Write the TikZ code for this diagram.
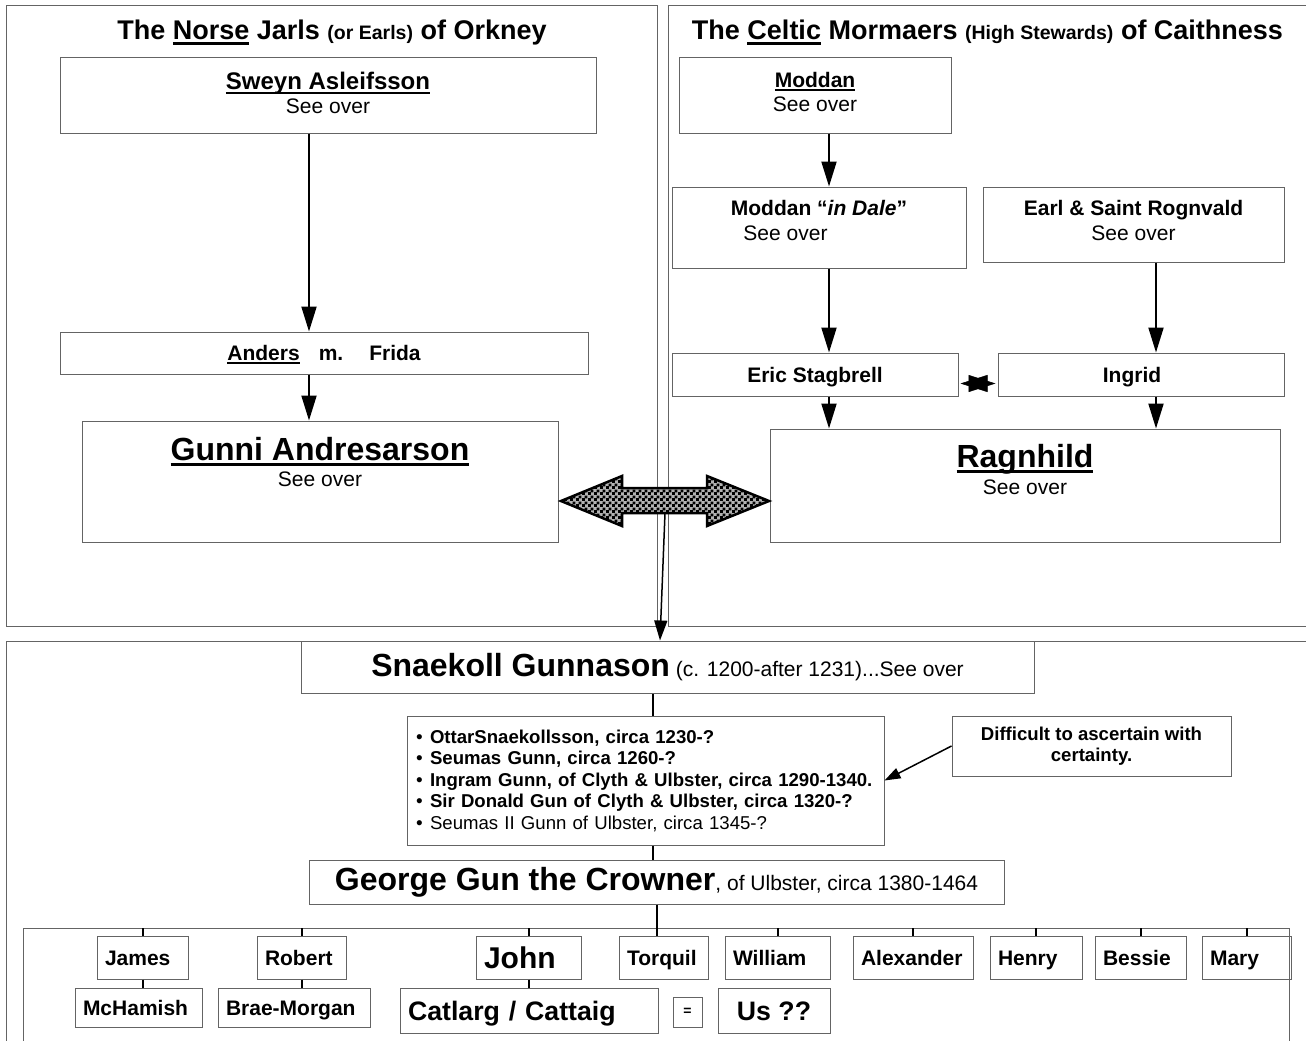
\documentclass[tikz,border=0pt]{standalone}
\usepackage{fontspec}
\setmainfont{Liberation Sans}
\usetikzlibrary{arrows.meta,patterns}

\definecolor{edgegray}{RGB}{100,100,100}

% fine chequer for the big double arrow
\pgfdeclarepatternformonly{smallcheck}{\pgfpointorigin}{\pgfqpoint{6pt}{6pt}}{\pgfqpoint{6pt}{6pt}}%
{%
  \pgfpathrectangle{\pgfpointorigin}{\pgfqpoint{3.2pt}{3.2pt}}%
  \pgfpathrectangle{\pgfqpoint{3pt}{3pt}}{\pgfqpoint{3.2pt}{3.2pt}}%
  \pgfusepath{fill}%
}

\newcommand{\fsize}[2]{\fontsize{#1}{#2}\selectfont}
\newcommand{\uname}[1]{\sbox0{#1}\rlap{\rule[-0.17em]{\wd0}{0.085em}}\usebox0}
\newcommand{\lbul}{\makebox[14pt][l]{\fsize{19}{19}\textbullet}}

\begin{document}
\begin{tikzpicture}[x=1pt, y=-1pt,
  panel/.style={draw=edgegray, line width=1pt},
  box/.style={draw=edgegray, line width=1pt, inner sep=0pt, align=center},
  wh/.style 2 args={minimum width=#1pt, minimum height=#2pt},
  oneline/.style={text height=#1pt, text depth=0pt},
  ttl/.style={anchor=base, font=\bfseries\fsize{27}{31}},
  txt/.style={align=center, font=\fsize{21}{#1}},
  kid/.style={box, align=left, inner xsep=8pt, oneline=15, font=\bfseries\fsize{21}{24}},
  arr/.style={line width=2pt, -{Triangle[length=25pt,width=15pt]}},
  thinarr/.style={line width=1.5pt, -{Triangle[length=20pt,width=13pt]}},
  link/.style={line width=2pt},
  wed/.style={line width=0.5pt, {Triangle[length=27pt,width=17pt]}-{Triangle[length=27pt,width=17pt]}},
  dblarrow/.style={line width=2.5pt, line join=miter, preaction={fill=black!30}, pattern=smallcheck}]
  \useasboundingbox (0,0) rectangle (1306,1041);
  \clip (0,0) rectangle (1306,1041);

  % panels
  \draw[panel] (6,6) rectangle (657,626);
  \draw[panel] (668,6) rectangle (1320,626);
  \draw[panel] (6,641) rectangle (1320,1060);

  % Orkney
  \node[ttl] (ttlL) at (332,40) {The \uname{Norse} Jarls {\fsize{19.5}{22}(or Earls)} of Orkney};
  \node[box, wh={536}{75}] (sweyn) at (328,95.5) {};
  \node[txt=24] at ([yshift=2.5pt]sweyn.center) {{\bfseries\fsize{24}{24}\uname{Sweyn Asleifsson}}\\See over};
  \node[box, wh={528}{42}, oneline=15, font=\bfseries\fsize{21}{24}] (anders) at (324,353)
    {\uname{Anders}\hspace{19pt}m.\hspace{26pt}Frida};
  \node[box, wh={476}{121}] (gunni) at (320,481.5) {};
  \node[txt=26] at ([yshift=19.5pt]gunni.center) {{\bfseries\fsize{32}{26}\uname{Gunni Andresarson}}\\See over};

  \draw[arr] ([xshift=-19pt]sweyn.south) -- ([xshift=-19pt]sweyn.south |- anders.north);
  \draw[arr] ([xshift=-15pt]anders.south) -- ([xshift=-15pt]anders.south |- gunni.north);

  % Caithness
  \node[ttl] (ttlR) at (987.5,40) {The \uname{Celtic} Mormaers {\fsize{19.5}{22}(High Stewards)} of Caithness};
  \node[box, wh={272}{75}] (moddan) at (815,95.5) {};
  \node[txt=24] at ([yshift=3.5pt]moddan.center) {{\bfseries\uname{Moddan}}\\See over};
  \node[box, wh={294}{81}] (dale) at (819,227.5) {};
  \node[txt=25] at ([yshift=7pt]dale.center) {{\bfseries Moddan “\textit{in Dale}”}\\See over\hspace*{67pt}};
  \node[box, wh={301}{75}] (earl) at (1133.5,224.5) {};
  \node[txt=25] at ([yshift=4pt]earl.center) {{\bfseries Earl \& Saint Rognvald}\\See over};
  \node[box, wh={286}{43}, oneline=15, font=\bfseries\fsize{21}{24}] (eric) at (815,374.5) {Eric Stagbrell};
  \node[box, wh={286}{43}, oneline=15, font=\bfseries\fsize{21}{24}] (ingrid) at (1141,374.5) {Ingrid\hspace*{18pt}};
  \node[box, wh={510}{113}] (rag) at (1025,485.5) {};
  \node[txt=27] at ([yshift=16pt]rag.center) {{\bfseries\fsize{32}{27}\uname{Ragnhild}}\\See over};

  \draw[arr] ([xshift=14pt]moddan.south) -- ([xshift=14pt]moddan.south |- dale.north);
  \draw[arr] ([xshift=10pt]dale.south) -- ([xshift=10pt]dale.south |- eric.north);
  \draw[arr] ([xshift=22.5pt]earl.south) -- ([xshift=22.5pt]earl.south |- ingrid.north);
  \draw[arr] ([xshift=14pt]eric.south) -- ([xshift=14pt]eric.south |- rag.north);
  \draw[arr] ([xshift=15pt]ingrid.south) -- ([xshift=15pt]ingrid.south |- rag.north);
  \draw[wed] ([xshift=2pt,yshift=-9pt]eric.east) -- ([xshift=-2pt,yshift=-9pt]ingrid.west);

  % the union of the two lines
  \draw[dblarrow] (561,501) -- (622,476) -- (622,488) -- (707,488) -- (707,476) -- (769,501)
    -- (707,526) -- (707,513) -- (622,513) -- (622,526) -- cycle;
  \coordinate (drop) at (665,513);

  % Gunn line
  \node[box, wh={733}{52}, font=\fsize{21}{24}] (snaek) at (667.5,667)
    {{\bfseries\fsize{32}{36}Snaekoll Gunnason} (c. 1200-after 1231)...See over};
  \draw[thinarr] (drop) -- ([xshift=-7.5pt]snaek.north);

  \node[box, wh={477}{129}, align=left, inner xsep=9pt, text width=459pt, font=\fsize{18.6}{21.5}] (bul) at (645.5,780.5) {%
    \lbul\textbf{OttarSnaekollsson, circa 1230-?}\\
    \lbul\textbf{Seumas Gunn, circa 1260-?}\\
    \lbul\textbf{Ingram Gunn, of Clyth \& Ulbster, circa 1290-1340.}\\
    \lbul\textbf{Sir Donald Gun of Clyth \& Ulbster, circa 1320-?}\\
    \lbul Seumas II Gunn of Ulbster, circa 1345-?};
  \node[box, wh={279}{60}, font=\bfseries\fsize{18.6}{21}] (diff) at (1091.5,746)
    {Difficult to ascertain with\\certainty.};
  \draw[line width=1.5pt, -{Triangle[length=16pt,width=11pt]}] (diff.west) -- (bul.east);

  \node[box, wh={695}{44}, font=\fsize{21}{24}] (george) at (656.5,882)
    {{\bfseries\fsize{32}{36}George Gun the Crowner}, of Ulbster, circa 1380-1464};

  \draw[link] ([xshift=7.5pt]bul.north) -- ([xshift=7.5pt]bul.north |- snaek.south);
  \draw[link] ([xshift=7.5pt]bul.south) -- ([xshift=7.5pt]bul.south |- george.north);

  % children of George
  \node[panel, anchor=north west, wh={1266}{140}] (fam) at (23,928) {};
  \node[kid, text width=75pt, minimum height=43pt] (james) at (142.5,957.5) {James};
  \node[kid, text width=73pt, minimum height=43pt] (robert) at (301.5,957.5) {Robert};
  \node[kid, text width=89pt, minimum height=43pt, oneline=21.5, font=\bfseries\fsize{30}{32}] (john) at (528.5,957.5) {John};
  \node[kid, text width=73pt, minimum height=43pt] (torq) at (663.5,957.5) {Torquil};
  \node[kid, text width=89pt, minimum height=43pt] (will) at (777.5,957.5) {William};
  \node[kid, text width=104pt, minimum height=43pt] (alex) at (913,957.5) {Alexander};
  \node[kid, text width=76pt, minimum height=43pt] (henry) at (1036,957.5) {Henry};
  \node[kid, text width=75pt, minimum height=43pt] (bessie) at (1140.5,957.5) {Bessie};
  \node[kid, text width=73pt, minimum height=43pt] (mary) at (1246.5,957.5) {Mary};

  \node[kid, text width=111pt, minimum height=39pt] (mch) at (138.5,1007.5) {McHamish};
  \node[kid, text width=136pt, minimum height=39pt] (brae) at (294,1007.5) {Brae-Morgan};
  \node[kid, text width=242pt, minimum height=45pt, oneline=19, font=\bfseries\fsize{26.7}{30}] (catl) at (529,1010.5) {Catlarg / Cattaig};
  \node[box, wh={29}{30}, font=\bfseries\fsize{14}{14}] (eq) at (687.5,1012) {=};
  \node[box, wh={112}{45}, oneline=19, font=\bfseries\fsize{26.7}{30}] (us) at (774,1010.5) {Us ??};

  \foreach \k in {james,robert,john,will,alex,henry,bessie,mary}
    \draw[link] (\k.north |- fam.north) -- (\k.north);
  \draw[link] (george.south) -- (george.south |- torq.north);
  \draw[link] (james.south) -- (james.south |- mch.north);
  \draw[link] (robert.south) -- (robert.south |- brae.north);
  \draw[link] (john.south) -- (john.south |- catl.north);
\end{tikzpicture}
\end{document}
